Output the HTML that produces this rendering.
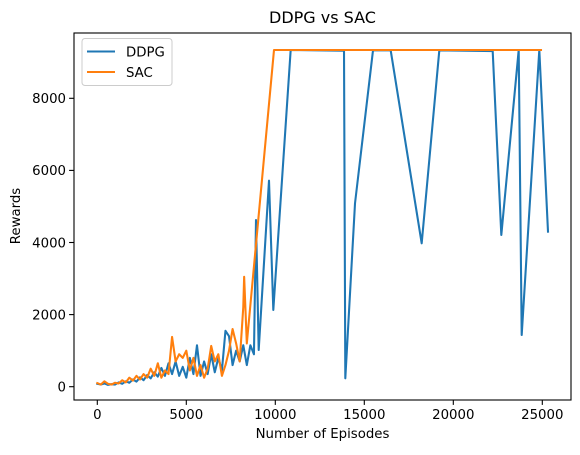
<!DOCTYPE html>
<html><head><meta charset="utf-8"><style>
body{margin:0;background:#fff}
svg{display:block;font-family:"DejaVu Sans","Liberation Sans",sans-serif}
</style></head><body>
<svg id="chart" width="580" height="455" viewBox="0 0 580 455">
<rect width="580" height="455" fill="#fff"/>
<g id="plot"></g>
</svg>
<script>
const ddpgX=[0,200,400,600,800,1000,1200,1400,1600,1800,2000,2200,2400,2600,2800,3000,3200,3400,3600,3800,4000,4200,4400,4600,4800,5000,5200,5400,5600,5800,6000,6200,6400,6600,6800,7000,7200,7400,7600,7800,8000,8200,8400,8600,8800,8916,9067,9646,9888,10864,13860,13933,14478,15489,16482,18224,19214,22213,22697,23674,23842,24832,25320];
const ddpgY=[80,60,90,50,70,60,120,80,150,110,200,140,260,180,320,230,400,280,520,300,650,350,700,300,550,250,800,350,1150,300,700,350,900,400,800,450,1550,1400,600,1000,700,1150,600,1150,900,4624,1018,5715,2128,9340,9320,233,5087,9330,9330,3978,9330,9310,4208,9340,1434,9340,4300];
const sacX=[0,200,400,600,800,1000,1200,1400,1600,1800,2000,2200,2400,2600,2800,3000,3200,3400,3600,3800,4000,4200,4400,4600,4800,5000,5200,5400,5600,5800,6000,6200,6400,6600,6800,7000,7200,7400,7600,7800,8000,8200,8250,8400,9927,24927];
const sacY=[100,60,150,80,60,110,90,180,120,250,170,300,200,350,250,500,300,650,250,450,350,1380,700,900,800,1000,450,800,300,600,250,500,1130,700,900,300,600,1000,1600,1200,700,2200,3050,1200,9340,9340];
const xTicks=[0,5000,10000,15000,20000,25000];
const yTicks=[0,2000,4000,6000,8000];
const seriesNames=["DDPG","SAC"];

const L=74,R=571,T=33,B=400;
const sx=v=>97.3+v*0.0178;
const sy=v=>386.7-v*0.03605;
const NS="http://www.w3.org/2000/svg";
const g=document.getElementById('plot');
function mk(tag,attrs,parent){const e=document.createElementNS(NS,tag);for(const k in attrs)e.setAttribute(k,attrs[k]);(parent||g).appendChild(e);return e;}

function line(xs,ys,color,name){
  const p=mk('path',{d:xs.map((x,i)=>(i?'L':'M')+sx(x).toFixed(2)+','+sy(ys[i]).toFixed(2)).join(''),fill:'none',stroke:color,'stroke-width':2.08,'stroke-linejoin':'round','stroke-linecap':'square'});
  
  
}
line(ddpgX,ddpgY,'#1f77b4','ddpg-line');
line(sacX,sacY,'#ff7f0e','sac-line');

const frame=mk('rect',{x:L,y:T,width:R-L,height:B-T,fill:'none',stroke:'#000','stroke-width':1.1});



xTicks.forEach(v=>{
  const x=sx(v);
  const t=mk('line',{x1:x,x2:x,y1:B,y2:B+4.9,stroke:'#000','stroke-width':1.1});
  
  
  const l=mk('text',{x:x,y:B+19,'text-anchor':'middle','font-size':13.3,fill:'#000'});
  l.textContent=v;
  
  
});
yTicks.forEach(v=>{
  const y=sy(v);
  const t=mk('line',{x1:L-4.9,x2:L,y1:y,y2:y,stroke:'#000','stroke-width':1.1});
  
  
  const l=mk('text',{x:L-8,y:y+4.8,'text-anchor':'end','font-size':13.3,fill:'#000'});
  l.textContent=v;
  
  
});

const title=mk('text',{x:(L+R)/2,y:23,'text-anchor':'middle','font-size':16,fill:'#000'});
title.textContent='DDPG vs SAC';


const xt=mk('text',{x:(L+R)/2,y:438,'text-anchor':'middle','font-size':13.3,fill:'#000'});
xt.textContent='Number of Episodes';


const yt=mk('text',{x:0,y:0,'text-anchor':'middle','font-size':13.3,fill:'#000',transform:'translate(20,216) rotate(-90)'});
yt.textContent='Rewards';



const lg=mk('g',{});


const box=mk('rect',{x:82,y:38.5,width:90,height:47,rx:3,fill:'#fff','fill-opacity':0.8,stroke:'#ccc','stroke-width':1},lg);


const cols=['#1f77b4','#ff7f0e'];
seriesNames.forEach((n,i)=>{
  const y=51.5+i*20.5;
  const ln=mk('line',{x1:87,x2:115,y1:y,y2:y,stroke:cols[i],'stroke-width':2.08},lg);
  
  
  const tx=mk('text',{x:126,y:y+4.8,'font-size':13.3,fill:'#000'},lg);
  tx.textContent=n;
  
  
});
</script>
</body></html>
